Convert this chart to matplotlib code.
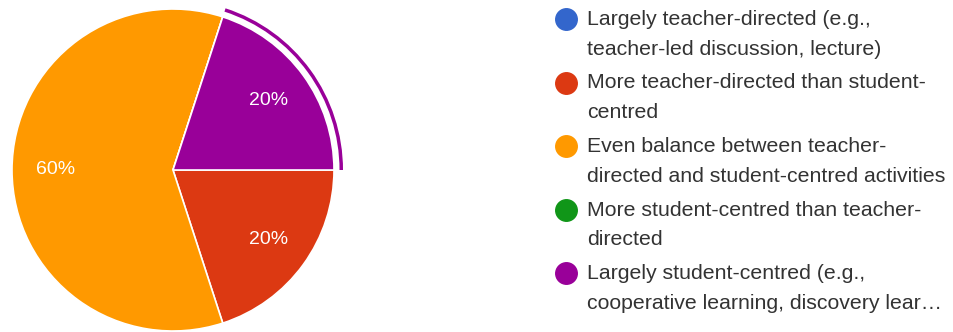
import matplotlib.pyplot as plt
from matplotlib.patches import Wedge

categorias = [
    "Largely teacher-directed (e.g.,\nteacher-led discussion, lecture)",
    "More teacher-directed than student-\ncentred",
    "Even balance between teacher-\ndirected and student-centred activities",
    "More student-centred than teacher-\ndirected",
    "Largely student-centred (e.g.,\ncooperative learning, discovery lear…",
]
porcentajes = [0, 20, 60, 0, 20]
colores = ["#3366cc", "#dc3912", "#ff9900", "#109618", "#990099"]
resaltado = 4  # porción con el arco exterior

plt.rcParams["font.family"] = ["Liberation Sans", "DejaVu Sans"]

fig = plt.figure(figsize=(9.54, 3.32), dpi=100)
ax = fig.add_axes([0, 0, 1, 1])

W, H = 954, 332
cx, cy, r = 173, H - 170, 161


def etiqueta(p):
    return f"{p:.0f}%" if p > 0 else ""


wedges, textos, autotextos = ax.pie(
    porcentajes, colors=colores, startangle=0, counterclock=False,
    center=(cx, cy), radius=r, autopct=etiqueta, pctdistance=0.73,
    wedgeprops=dict(edgecolor="white", linewidth=1.2), frame=True,
    textprops=dict(color="white", fontsize=14),
)

# arco exterior sobre la porción seleccionada
w = wedges[resaltado]
ax.add_patch(Wedge((cx, cy), r + 9, w.theta1, w.theta2, width=3.5,
                   facecolor=colores[resaltado], edgecolor="none"))

# leyenda dibujada a mano
for i, (cat, col) in enumerate(zip(categorias, colores)):
    y = H - (19 + i * 63.5)
    ax.scatter([566], [y], s=240, color=col, zorder=3)
    ax.text(587, y + 9, cat, fontsize=15.3, color="#333333", va="top",
            ha="left", linespacing=1.72)

ax.set_xlim(0, W)
ax.set_ylim(0, H)
ax.set_aspect("equal")
ax.axis("off")

fig.savefig("out.png", dpi=100)
